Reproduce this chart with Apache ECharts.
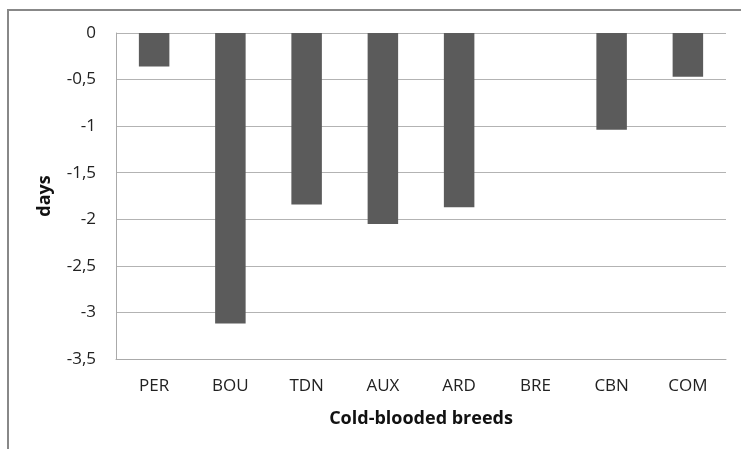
<!DOCTYPE html>
<html><head><meta charset="utf-8">
<script src="https://cdn.jsdelivr.net/npm/echarts@6/dist/echarts.min.js"></script>
<style>html,body{margin:0;padding:0;background:#fff}#c{width:741px;height:449px}</style>
</head><body><div id="c"></div>
<script>
const categories = ['PER','BOU','TDN','AUX','ARD','BRE','CBN','COM'];
const values = [-0.36, -3.12, -1.84, -2.05, -1.87, 0, -1.04, -0.47];
const yTitle = 'days';
const xTitle = 'Cold-blooded breeds';
const font = '"Open Sans", sans-serif';
const chart = echarts.init(document.getElementById('c'));
chart.setOption({
  animation: false,
  backgroundColor: '#fff',
  graphic: [{type:'rect', shape:{x:8,y:10,width:800,height:500}, style:{fill:'none', stroke:'#888', lineWidth:2}}],
  grid: {left:116, right:15, top:33, bottom:90},
  xAxis: {
    type:'category', data: categories,
    axisLine:{onZero:false, lineStyle:{color:'#aaa'}}, axisTick:{show:false},
    axisLabel:{color:'#222', fontFamily:font, fontSize:17, margin:19},
    name: xTitle, nameLocation:'middle', nameGap:51,
    nameTextStyle:{fontFamily:font, fontSize:18, fontWeight:'bold', color:'#111'}
  },
  yAxis: {
    type:'value', min:-3.5, max:0, interval:0.5,
    axisLine:{show:true, lineStyle:{color:'#aaa'}}, axisTick:{show:false},
    splitLine:{lineStyle:{color:'#b3b3b3'}},
    axisLabel:{color:'#222', fontFamily:font, fontSize:17, margin:20,
      formatter: v => String(v).replace('.', ',')},
    name: yTitle, nameLocation:'middle', nameGap:62,
    nameTextStyle:{fontFamily:font, fontSize:18, fontWeight:'bold', color:'#111'}
  },
  series: [{type:'bar', data: values, barWidth:'40%',
    itemStyle:{color:'#5b5b5b'}}]
});
</script></body></html>
